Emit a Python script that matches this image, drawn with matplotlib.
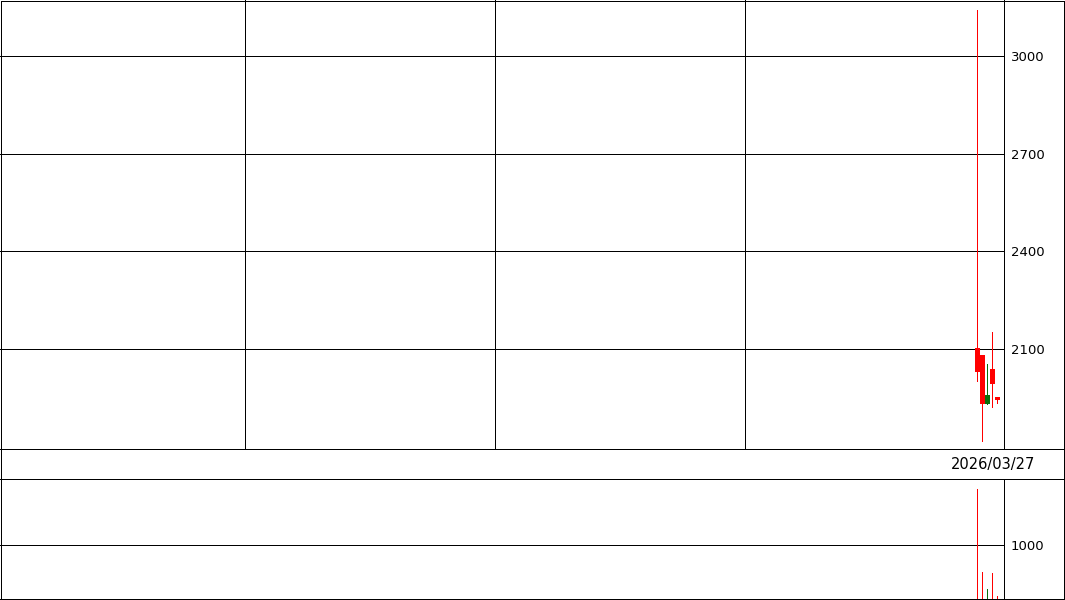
import matplotlib
matplotlib.use("Agg")
import matplotlib.pyplot as plt
from matplotlib.patches import Rectangle
from matplotlib.lines import Line2D

# ---- data ----
slots = [195, 196, 197, 198, 199]          # trading-day slot index on the x axis
opens  = [2030, 1930, 1959, 1992, 1943]
highs  = [3141, 2083, 2053, 2152, 1953]
lows   = [2002, 1818, 1930, 1923, 1933]
closes = [2102, 2083, 1930, 2039, 1953]
volumes = [2037, 506, 191, 487, 61]
price_ticks = [2100, 2400, 2700, 3000]
volume_ticks = [1000]
date_label = "2026/03/27"

UP = "#ff0000"
DOWN = "#0a6e0a"
LW = 0.72  # one pixel at 100 dpi

W, H = 1065, 600
fig = plt.figure(figsize=(W / 100, H / 100), dpi=100)
fig.patch.set_facecolor("white")

def fx(px):
    return px / W

def fy(py):
    return 1 - py / H

xmin, xmax = -0.46, -0.46 + 1004 / 5
vgrid = [48.54, 98.54, 148.54]
FS = 9.5

# main price panel
ax = fig.add_axes([0, fy(449), fx(1004), fy(0) - fy(449)])
ax.set_xlim(xmin, xmax)
ax.set_ylim(1792.8, 3172)
for y in price_ticks:
    ax.axhline(y, color="black", lw=LW, antialiased=False, zorder=1)
for x in vgrid:
    ax.axvline(x, color="black", lw=LW, antialiased=False, zorder=1)

for s, o, h, l, c in zip(slots, opens, highs, lows, closes):
    col = UP if c >= o else DOWN
    ax.vlines(s, l, h, color=col, lw=LW, antialiased=False, zorder=3)
    lo, hi = min(o, c), max(o, c)
    ax.bar(s, hi - lo, bottom=lo, width=0.9, color=col, edgecolor=col,
           lw=0, antialiased=False, zorder=4)

ax.yaxis.tick_right()
ax.set_yticks(price_ticks)
ax.set_yticklabels([str(t) for t in price_ticks])
ax.set_xticks([])
ax.tick_params(axis="y", length=0, pad=5, labelsize=FS)
for name, sp in ax.spines.items():
    sp.set_linewidth(LW)
    if name in ("left", "top"):
        sp.set_visible(False)

# volume panel
axv = fig.add_axes([0, fy(599), fx(1004), fy(479) - fy(599)])
axv.set_xlim(xmin, xmax)
axv.set_ylim(0, 2222)
for y in volume_ticks:
    axv.axhline(y, color="black", lw=LW, antialiased=False, zorder=1)
for s, o, c, v in zip(slots, opens, closes, volumes):
    col = UP if c >= o else DOWN
    axv.vlines(s, 0, v, color=col, lw=LW, antialiased=False, zorder=3)
axv.yaxis.tick_right()
axv.set_yticks(volume_ticks)
axv.set_yticklabels([str(t) for t in volume_ticks])
axv.set_xticks([])
axv.tick_params(axis="y", length=0, pad=5, labelsize=FS)
for name, sp in axv.spines.items():
    sp.set_linewidth(LW)
    if name == "left":
        sp.set_visible(False)

# date strip and outer border
for py in (449, 479, 599):
    fig.add_artist(Line2D([0, 1], [fy(py), fy(py)], color="black", lw=LW,
                          transform=fig.transFigure, antialiased=False))
fig.text(fx(1035), fy(464), date_label, ha="right", va="center", fontsize=10.5,
         color="black")
fig.add_artist(Rectangle((0.0005, 0.0008), 0.999, 0.998, fill=False,
                         edgecolor="black", lw=LW, antialiased=False,
                         transform=fig.transFigure))

fig.savefig("out.png", dpi=100, facecolor="white")
